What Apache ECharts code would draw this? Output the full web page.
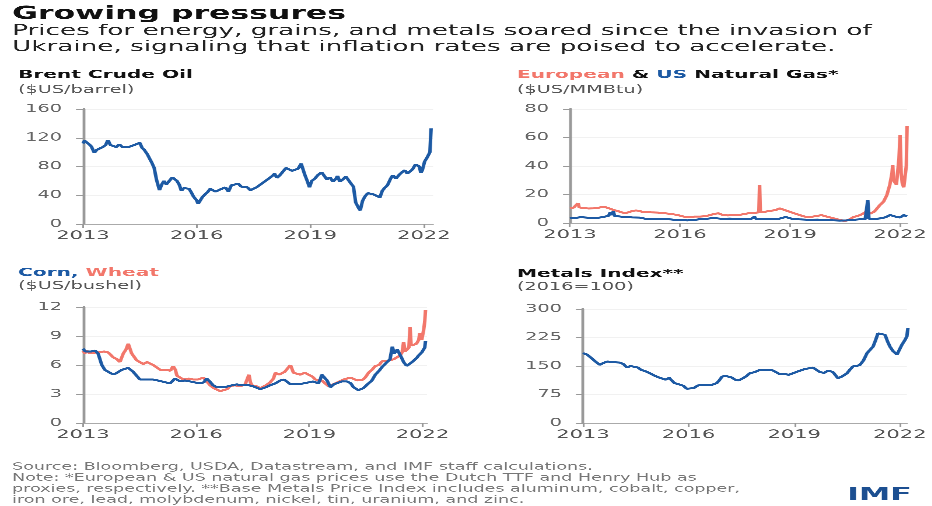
<!DOCTYPE html>
<html><head><meta charset="utf-8">
<script src="https://cdn.jsdelivr.net/npm/echarts@6/dist/echarts.min.js"></script>
<style>
html,body{margin:0;padding:0;background:#fff;overflow:hidden}
#wrap{width:932px;height:506px;overflow:hidden;position:relative}
#main{width:532.571px;height:506px;transform:scaleX(1.75);transform-origin:0 0}
</style>
</head><body><div id="wrap"><div id="main"></div></div>
<script>
// ---------- DATA (decimal years, values) ----------
const yearTicks = [2013, 2016, 2019, 2022];

const brentX = [2013.00,2013.04,2013.10,2013.16,2013.22,2013.30,2013.36,2013.44,2013.52,2013.60,2013.66,2013.72,2013.80,2013.88,2013.96,
2014.04,2014.12,2014.20,2014.28,2014.36,2014.44,2014.50,2014.56,2014.62,2014.70,2014.76,2014.82,2014.88,2014.94,
2015.02,2015.08,2015.14,2015.20,2015.28,2015.36,2015.42,2015.48,2015.54,2015.60,2015.66,2015.72,2015.80,2015.86,2015.92,
2016.00,2016.04,2016.10,2016.16,2016.22,2016.30,2016.36,2016.44,2016.50,2016.56,2016.62,2016.68,2016.76,2016.84,2016.92,
2017.00,2017.10,2017.18,2017.26,2017.34,2017.42,2017.50,2017.58,2017.66,2017.74,2017.82,2017.90,
2018.00,2018.06,2018.12,2018.20,2018.28,2018.36,2018.44,2018.52,2018.60,2018.68,2018.76,2018.80,2018.86,2018.92,2018.98,
2019.04,2019.12,2019.20,2019.30,2019.36,2019.44,2019.52,2019.60,2019.68,2019.72,2019.78,2019.86,2019.94,
2020.02,2020.08,2020.14,2020.20,2020.28,2020.32,2020.38,2020.44,2020.52,2020.60,2020.68,2020.76,2020.84,2020.90,2020.96,
2021.04,2021.12,2021.18,2021.26,2021.34,2021.42,2021.50,2021.56,2021.62,2021.70,2021.78,2021.84,2021.88,2021.92,2021.96,
2022.02,2022.08,2022.13,2022.16,2022.19];
const brentY = [112,116,118,111,108,99,103,103,107,110,117,110,109,107,111,
107,109,107,109,110,112,113,106,103,97,91,85,78,62,
47,55,60,55,60,65,63,60,55,46,50,48,49,44,38,
33,28,33,38,40,45,49,48,45,43,48,47,51,45,54,
55,56,52,54,51,47,46,51,53,57,60,63,
67,70,64,68,73,78,76,74,72,77,84,82,68,60,51,
60,63,68,72,70,62,65,59,63,67,59,62,66,
64,56,52,30,22,19,32,38,43,45,41,41,37,46,50,
54,63,68,63,68,72,75,70,72,76,83,84,80,71,75,
87,92,97,100,133];

const euGasX = [2013.00,2013.10,2013.18,2013.22,2013.25,2013.35,2013.50,2013.65,2013.80,2013.92,
2014.00,2014.10,2014.20,2014.30,2014.40,2014.50,2014.60,2014.70,2014.80,2014.90,
2015.00,2015.10,2015.20,2015.40,2015.60,2015.80,2015.95,
2016.10,2016.25,2016.40,2016.55,2016.70,2016.85,2016.95,
2017.05,2017.15,2017.30,2017.45,2017.60,2017.75,2017.90,
2018.05,2018.15,2018.17,2018.19,2018.30,2018.45,2018.60,2018.72,2018.80,2018.92,
2019.00,2019.15,2019.27,2019.40,2019.55,2019.70,2019.86,
2020.00,2020.09,2020.20,2020.36,2020.50,2020.62,2020.73,2020.85,2020.95,
2021.05,2021.10,2021.18,2021.30,2021.45,2021.55,2021.64,2021.72,2021.78,2021.80,2021.82,2021.86,2021.90,2021.95,2021.97,
2022.00,2022.03,2022.06,2022.10,2022.14,2022.17,2022.19];
const euGasY = [10.5,10.8,11.5,14,11,10.5,10.2,10.3,10.8,11.5,
11,10,9,8.5,7.5,7,7.5,8.5,8.8,8.5,
7.5,8,7.5,7.3,6.8,6.2,5.5,
4.5,4.2,4.5,4.5,4.8,5.8,6.5,
6.8,5.8,5.3,5.5,5.6,6.3,7,
7.2,7.5,26.7,8,7.8,8.5,9,10.3,9.5,8.5,
7.9,6.5,5.5,4.5,4.2,4.8,5.5,
4.5,3.7,3.2,2.1,1.4,2.5,4.2,5,6,
7.5,9,6.5,8,12.6,15,19.6,26.7,35,40.7,30,31.3,27,26.7,45,
61.8,35,28,25,24.3,40,68];

const usGasX = [2013.00,2013.15,2013.30,2013.45,2013.60,2013.75,2013.90,
2014.05,2014.10,2014.15,2014.18,2014.22,2014.35,2014.50,2014.70,2014.90,
2015.05,2015.25,2015.50,2015.75,2015.95,
2016.10,2016.20,2016.40,2016.55,2016.75,2016.90,
2017.00,2017.15,2017.35,2017.55,2017.75,2017.95,
2018.03,2018.06,2018.20,2018.45,2018.70,2018.88,2018.95,
2019.05,2019.25,2019.50,2019.75,2019.95,
2020.15,2020.35,2020.55,2020.75,2020.90,
2021.05,2021.12,2021.15,2021.30,2021.45,2021.60,2021.73,2021.80,2021.90,
2022.00,2022.05,2022.10,2022.15,2022.19];
const usGasY = [3.3,3.6,4.1,3.8,3.5,3.6,4.2,
5,7.5,5.5,8.2,4.8,4.6,4.2,3.9,3.8,
3,2.7,2.8,2.5,2,
2,1.8,2.2,2.7,3,3.5,
3.3,2.9,3.1,2.9,2.9,3,
4.5,3,2.7,2.9,3,4.2,3.5,
3,2.6,2.3,2.4,2.1,
1.9,1.7,1.8,2.3,2.6,
2.7,16,3,2.8,3.2,4,5.6,5.3,4.3,
3.8,4.5,5.6,4.5,4.6];

const cornX = [2013.00,2013.06,2013.13,2013.22,2013.32,2013.40,2013.45,2013.50,2013.58,2013.66,2013.76,2013.86,2013.95,
2014.03,2014.12,2014.20,2014.33,2014.42,2014.51,2014.60,2014.69,2014.78,2014.86,2014.98,
2015.09,2015.20,2015.31,2015.40,2015.44,2015.50,2015.58,2015.70,2015.84,2015.96,
2016.10,2016.20,2016.28,2016.36,2016.45,2016.55,2016.64,2016.75,2016.85,2016.95,
2017.08,2017.18,2017.25,2017.40,2017.51,2017.60,2017.70,2017.85,2017.96,
2018.10,2018.23,2018.33,2018.41,2018.50,2018.58,2018.70,2018.85,2018.98,
2019.10,2019.24,2019.30,2019.33,2019.40,2019.47,2019.56,2019.65,2019.74,2019.86,
2020.00,2020.10,2020.17,2020.30,2020.43,2020.57,2020.66,2020.75,2020.85,2020.93,
2021.06,2021.14,2021.20,2021.25,2021.28,2021.33,2021.37,2021.44,2021.50,2021.58,2021.64,2021.72,2021.77,2021.84,2021.90,2021.98,
2022.03,2022.06,2022.08];
const cornY = [7.7,7.4,7.2,7.4,7.5,7.2,7.0,6.0,5.5,5.3,5.1,5.1,5.2,
5.5,5.6,5.7,5.3,4.9,4.5,4.4,4.5,4.6,4.5,4.4,
4.3,4.2,4.1,4.3,4.6,4.5,4.3,4.4,4.3,4.2,
4.1,4.2,4.6,4.3,3.9,3.7,3.5,3.7,3.8,3.9,
4.0,3.9,3.9,3.9,3.8,3.7,3.5,3.7,3.9,
4.1,4.4,4.5,4.3,4.0,3.8,4.0,4.1,4.2,
4.3,4.1,4.6,5.0,4.8,4.4,3.7,4.0,4.2,4.3,
4.3,4.1,3.7,3.4,3.6,4.1,4.4,5.0,5.4,5.8,
6.3,6.6,7.9,7.2,7.0,7.6,7.5,6.8,6.3,5.9,6.0,6.3,6.5,6.7,7.0,7.3,
7.5,7.8,8.5];

const wheatX = [2013.00,2013.05,2013.09,2013.18,2013.27,2013.36,2013.45,2013.56,2013.67,2013.80,2013.90,2013.98,
2014.07,2014.14,2014.20,2014.25,2014.29,2014.36,2014.42,2014.50,2014.60,2014.70,2014.78,2014.86,2014.95,
2015.05,2015.14,2015.22,2015.32,2015.39,2015.45,2015.49,2015.58,2015.66,2015.80,2015.92,
2016.05,2016.19,2016.28,2016.37,2016.47,2016.55,2016.64,2016.72,2016.82,2016.90,
2017.02,2017.17,2017.30,2017.35,2017.40,2017.44,2017.48,2017.60,2017.70,2017.85,2017.96,
2018.05,2018.10,2018.20,2018.27,2018.35,2018.41,2018.50,2018.58,2018.66,2018.76,2018.88,2018.98,
2019.08,2019.16,2019.33,2019.42,2019.51,2019.60,2019.69,2019.80,2019.91,
2020.00,2020.09,2020.18,2020.27,2020.35,2020.43,2020.50,2020.57,2020.66,2020.75,2020.85,2020.93,
2021.06,2021.15,2021.24,2021.32,2021.41,2021.46,2021.50,2021.54,2021.58,2021.64,2021.67,2021.70,2021.76,2021.84,2021.90,2021.93,2021.98,
2022.03,2022.06,2022.08];
const wheatY = [7.5,7.2,7.5,7.2,7.0,7.3,7.5,7.4,7.3,6.8,6.6,6.3,
7.2,7.6,8.2,8.4,7.2,7.0,6.5,6.4,6.1,6.3,6.5,6.0,5.8,
5.5,5.6,5.5,5.4,5.9,5.5,4.9,4.7,4.5,4.6,4.5,
4.5,4.7,4.3,3.9,3.6,3.4,3.3,3.3,3.5,3.8,
3.9,3.8,4.0,4.1,5.0,4.2,3.9,3.8,3.6,3.9,4.2,
4.6,5.2,5.0,5.1,5.3,5.5,6.0,5.2,5.3,5.0,5.2,5.0,
4.8,4.5,4.4,4.2,3.8,4.0,4.1,4.3,4.5,
4.6,4.7,4.5,4.4,4.6,4.5,4.8,5.2,5.5,5.9,6.0,6.4,
6.4,6.5,6.6,6.8,7.0,7.3,8.4,7.4,7.5,7.8,9.9,8.0,7.9,8.2,8.6,9.3,8.6,
9.6,10.5,11.7];

const metalsX = [2013.00,2013.05,2013.12,2013.25,2013.38,2013.48,2013.58,2013.70,2013.85,
2014.05,2014.15,2014.25,2014.35,2014.45,2014.56,2014.65,2014.78,2014.90,
2015.05,2015.15,2015.24,2015.35,2015.45,2015.52,2015.60,2015.72,2015.85,2015.95,
2016.04,2016.15,2016.27,2016.35,2016.45,2016.52,2016.65,2016.80,2016.88,2016.95,
2017.05,2017.12,2017.22,2017.32,2017.42,2017.55,2017.65,2017.74,2017.88,
2018.03,2018.12,2018.20,2018.30,2018.40,2018.50,2018.60,2018.70,2018.85,2018.97,
2019.08,2019.16,2019.30,2019.42,2019.53,2019.63,2019.73,2019.85,2019.97,
2020.10,2020.17,2020.24,2020.35,2020.50,2020.58,2020.67,2020.77,2020.87,2020.97,
2021.07,2021.15,2021.24,2021.30,2021.38,2021.45,2021.58,2021.65,2021.72,2021.80,2021.88,2021.92,
2022.00,2022.06,2022.15,2022.20,2022.23];
const metalsY = [184,186,180,170,160,153,158,162,160,
159,155,146,150,148,146,140,136,131,
124,120,117,114,119,112,105,102,98,90,
87,92,99,95,100,102,100,105,113,122,
124,127,120,114,112,118,124,131,134,
140,137,139,140,138,133,128,129,127,131,
135,140,142,144,146,140,134,132,138,
134,126,118,122,131,140,149,150,153,165,
184,192,201,215,236,234,232,215,201,190,185,180,
195,206,219,228,250];

// ---------- STYLE ----------
const FONT = '"DejaVu Sans", "Noto Sans", sans-serif';
const BLUE = '#1d5aa4';
const RED = '#f2776b';

const chart = echarts.init(document.getElementById('main'), null, {renderer: 'canvas', devicePixelRatio: 3});

function pairs(xs, ys) { return xs.map((x, i) => [x, ys[i]]); }

function xAx(gi, max) {
  return {
    type: 'value', gridIndex: gi, min: 2013, max: max,
    axisLine: {show: true, onZero: false, lineStyle: {color: '#aaa', width: 1}},
    axisTick: {show: true, customValues: yearTicks, length: 4, lineStyle: {color: '#999'}},
    axisLabel: {customValues: yearTicks, formatter: v => String(v), color: '#555', fontSize: 12, fontFamily: FONT, margin: 6},
    splitLine: {show: false}
  };
}
function yAx(gi, max, interval) {
  return {
    type: 'value', gridIndex: gi, min: 0, max: max, interval: interval,
    axisLine: {show: true, lineStyle: {color: '#999', width: 1.6}},
    axisTick: {show: true, length: 4, lineStyle: {color: '#999'}},
    axisLabel: {color: '#666', fontSize: 11, fontFamily: FONT, margin: 12},
    splitLine: {show: true, lineStyle: {color: '#f1f1f1', width: 1}}
  };
}
function line(name, gi, data, color) {
  return {
    name: name, type: 'line', xAxisIndex: gi, yAxisIndex: gi, data: data,
    showSymbol: false, symbol: 'none', smooth: false, animation: false,
    lineStyle: {color: color, width: 2}, itemStyle: {color: color}
  };
}
function txt(x, y, text, font, fill, extra) {
  return {type: 'text', x: x, y: y, silent: true,
    style: Object.assign({text: text, font: font, fill: fill, align: 'left', verticalAlign: 'middle'}, extra || {})};
}

const L = 6.9, PL = 10.3, PR = 295.4;
const PT = 'bold 11.5px ' + FONT;
const FT = '10px ' + FONT;

const option = {
  backgroundColor: '#fff',
  animation: false,
  grid: [
    {left: 47.4, top: 109, width: 200, height: 115},
    {left: 325.7, top: 109, width: 192.6, height: 114},
    {left: 47.4, top: 307, width: 196.6, height: 116},
    {left: 333.1, top: 309, width: 185.1, height: 114}
  ],
  xAxis: [xAx(0, 2022.24), xAx(1, 2022.19), xAx(2, 2022.12), xAx(3, 2022.2)],
  yAxis: [yAx(0, 160, 40), yAx(1, 80, 20), yAx(2, 12, 3), yAx(3, 300, 75)],
  series: [
    line('Brent', 0, pairs(brentX, brentY), BLUE),
    line('European gas', 1, pairs(euGasX, euGasY), RED),
    line('US gas', 1, pairs(usGasX, usGasY), BLUE),
    line('Wheat', 2, pairs(wheatX, wheatY), RED),
    line('Corn', 2, pairs(cornX, cornY), BLUE),
    line('Metals', 3, pairs(metalsX, metalsY), BLUE)
  ],
  graphic: [
    txt(L, 14, 'Growing pressures', 'bold 18px ' + FONT, '#111'),
    txt(L, 31, 'Prices for energy, grains, and metals soared since the invasion of', '15px ' + FONT, '#222'),
    txt(L, 47, 'Ukraine, signaling that inflation rates are poised to accelerate.', '15px ' + FONT, '#222'),

    txt(PL, 75, 'Brent Crude Oil', PT, '#111'),
    txt(PL, 90, '($US/barrel)', '11px ' + FONT, '#555'),
    {type: 'text', x: PR, y: 75, silent: true, style: {
      text: '{r|European} & {b|US} Natural Gas*', font: PT, fill: '#111',
      align: 'left', verticalAlign: 'middle',
      rich: {r: {fill: RED, font: PT}, b: {fill: BLUE, font: PT}}
    }},
    txt(PR, 90, '($US/MMBtu)', '11px ' + FONT, '#555'),

    {type: 'text', x: PL, y: 273, silent: true, style: {
      text: '{b|Corn,} {r|Wheat}', font: PT, fill: '#111',
      align: 'left', verticalAlign: 'middle',
      rich: {r: {fill: RED, font: PT}, b: {fill: BLUE, font: PT}}
    }},
    txt(PL, 286, '($US/bushel)', '11px ' + FONT, '#555'),
    txt(PR, 274, 'Metals Index**', PT, '#111'),
    txt(PR, 287, '(2016=100)', '11px ' + FONT, '#555'),

    txt(L, 467, 'Source: Bloomberg, USDA, Datastream, and IMF staff calculations.', FT, '#777'),
    txt(L, 478, 'Note: *European & US natural gas prices use the Dutch TTF and Henry Hub as', FT, '#777'),
    txt(L, 489, 'proxies, respectively. **Base Metals Price Index includes aluminum, cobalt, copper,', FT, '#777'),
    txt(L, 500, 'iron ore, lead, molybdenum, nickel, tin, uranium, and zinc.', FT, '#777'),
    {type: 'text', x: 521, y: 495, silent: true, style: {
      text: 'IMF', font: 'bold 18px ' + FONT, fill: '#1c4f91', align: 'right', verticalAlign: 'middle'}}
  ]
};
chart.setOption(option);
</script>
</body></html>
